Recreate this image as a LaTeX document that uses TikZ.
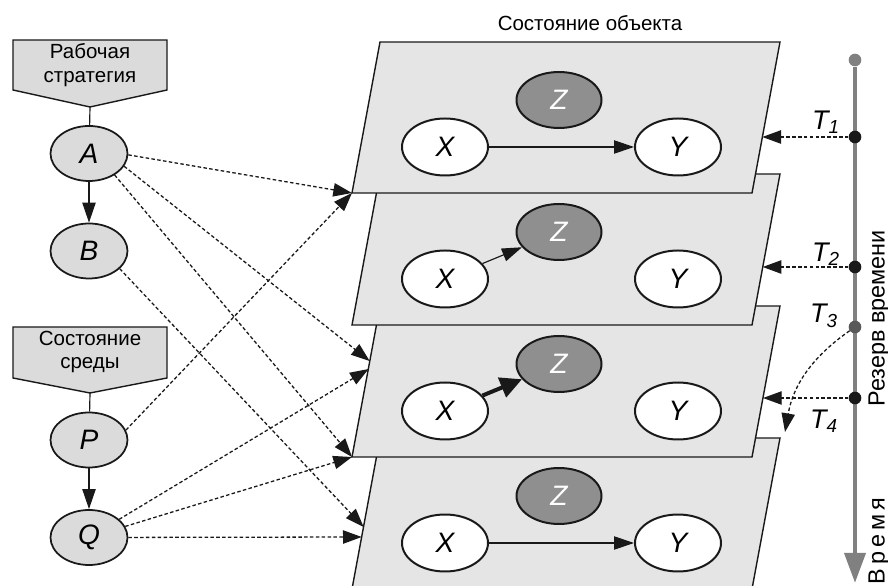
\documentclass[tikz,border=0pt]{standalone}
\usepackage{fontspec}
\setmainfont{Liberation Sans}
\usetikzlibrary{arrows.meta,shapes.geometric}

\begin{document}
\begin{tikzpicture}[
	lbl/.style={font=\fontsize{17.5}{20}\selectfont,align=center,inner sep=0pt},
	rlbl/.style={font=\fontsize{20}{22}\selectfont,inner sep=0pt,rotate=90},
	tlbl/.style={font=\fontsize{23}{25}\selectfont\itshape,inner sep=0pt},
	vleft/.style={ellipse,draw=cv,fill=cfl,line width=1.5pt,minimum width=2.31cm,minimum height=1.65cm,inner sep=0pt,font=\fontsize{24}{26}\selectfont\itshape},
	vobj/.style={ellipse,draw=cv,fill=white,line width=1.7pt,minimum width=2.58cm,minimum height=1.71cm,inner sep=0pt,font=\fontsize{24}{26}\selectfont\itshape},
	vz/.style={vobj,fill=cfz,text=white,minimum width=2.55cm,minimum height=1.68cm},
	plane/.style={draw=cv,fill=cpl,line width=1.2pt},
	sbox/.style={draw=cv,fill=cfl,line width=1.2pt},
	link/.style={draw=cv,line width=1.1pt,dash pattern=on 3pt off 2pt,-{Triangle[length=0.56cm,width=0.4cm]}},
	solidlink/.style={draw=cv,line width=1pt,-{Triangle[length=0.6cm,width=0.4cm]}},
	tdot/.style={circle,fill=cv,inner sep=0pt,minimum size=0.38cm}]
	\definecolor{cv}{rgb}{0.1,0.1,0.1}
	\definecolor{cfl}{rgb}{0.86,0.86,0.86}
	\definecolor{cpl}{rgb}{0.90,0.90,0.90}
	\definecolor{cfz}{rgb}{0.56,0.56,0.56}
	\definecolor{ctl}{rgb}{0.50,0.50,0.50}
	\definecolor{ct3}{rgb}{0.35,0.35,0.35}
	%
	\useasboundingbox (0,0) rectangle (26.64,17.58);
	%
	\filldraw[sbox] (0.39,16.38) -- (5.01,16.38) -- (5.01,14.88) -- (2.70,14.37) coordinate (tipA) -- (0.39,14.88) -- cycle;
	\filldraw[sbox] (0.39,7.77) -- (5.01,7.77) -- (5.01,6.24) -- (2.70,5.79) coordinate (tipP) -- (0.39,6.24) -- cycle;
	\node[lbl] (rs) at (2.70,15.63) {Рабочая\\стратегия};
	\node[lbl] (ss) at (2.70,7.02) {Состояние\\среды};
	%
	\filldraw[plane] (11.40,4.44) -- (23.40,4.44) coordinate (p4tr) -- (22.56,-0.09) -- (10.56,-0.09) -- cycle;
	\filldraw[plane] (11.40,8.40) -- (23.40,8.40) -- (22.56,3.87) -- (10.56,3.87) coordinate (p3bl) -- cycle;
	\filldraw[plane] (11.40,12.36) -- (23.40,12.36) -- (22.56,7.83) -- (10.56,7.83) coordinate (p2bl) -- cycle;
	\filldraw[plane] (11.40,16.32) -- (23.40,16.32) -- (22.56,11.79) -- (10.56,11.79) coordinate (p1bl) -- cycle;
	\node[lbl] (ttl) at (17.70,16.89) {Состояние объекта};
	%
	\node[vleft] (vA) at (2.67,12.975) {A};
	\node[vleft] (vB) at (2.67,10.05) {B};
	\node[vleft] (vP) at (2.67,4.38) {P};
	\node[vleft] (vQ) at (2.67,1.455) {Q};
	%
	\node[vobj] (x1) at (13.35,13.17) {X};
	\node[vz]   (z1) at (16.77,14.58) {Z};
	\node[vobj] (y1) at (20.34,13.17) {Y};
	\node[vobj] (x2) at (13.35,9.21) {X};
	\node[vz]   (z2) at (16.77,10.62) {Z};
	\node[vobj] (y2) at (20.34,9.21) {Y};
	\node[vobj] (x3) at (13.35,5.25) {X};
	\node[vz]   (z3) at (16.77,6.66) {Z};
	\node[vobj] (y3) at (20.34,5.25) {Y};
	\node[vobj] (x4) at (13.35,1.29) {X};
	\node[vz]   (z4) at (16.77,2.70) {Z};
	\node[vobj] (y4) at (20.34,1.29) {Y};
	%
	\coordinate (a3) at (11.09,6.75);
	\coordinate (q3) at (11.06,6.51);
	\coordinate (b4) at (10.91,1.77);
	\coordinate (q4) at (10.85,1.47);
	\coordinate (e1) at (22.87,13.47);
	\coordinate (e2) at (22.88,9.57);
	\coordinate (e4) at (22.89,5.64);
	\coordinate (e3) at (23.55,4.62);
	\coordinate (tend) at (25.65,0.09);
	%
	\draw[cv,line width=1pt] (tipA) -- (vA);
	\draw[cv,line width=1pt] (tipP) -- (vP);
	\draw[solidlink] (vA) -- (vB);
	\draw[solidlink] (vP) -- (vQ);
	%
	\draw[link] (vA.-2) -- (p1bl);
	\draw[link] (vA.-20) -- (a3);
	\draw[link] (vA.-40) -- (p3bl);
	\draw[link] (vB.-30) -- (b4);
	\draw[link] (vP.15) -- (p1bl);
	\draw[link] (vQ) -- (q3);
	\draw[link] (vQ) -- (p3bl);
	\draw[link] (vQ) -- (q4);
	%
	\draw[solidlink] (x1) -- (y1);
	\draw[solidlink] (x2) -- (z2);
	\draw[cv,line width=3.4pt,-{Triangle[length=0.65cm,width=0.62cm]}] (x3) -- (z3);
	\draw[solidlink] (x4) -- (y4);
	%
	\node[circle,fill=ctl,inner sep=0pt,minimum size=0.38cm] (t0) at (25.65,15.78) {};
	\draw[ctl,line width=0.14cm,-{Triangle[length=0.9cm,width=0.62cm]}] (t0) -- (tend);
	\node[tdot] (t1) at (25.65,13.47) {};
	\node[tdot] (t2) at (25.65,9.57) {};
	\node[tdot,fill=ct3] (t3) at (25.65,7.77) {};
	\node[tdot] (t4) at (25.65,5.64) {};
	\draw[link] (t1) -- (e1);
	\draw[link] (t2) -- (e2);
	\draw[link] (t4) -- (e4);
	\draw[link] (t3) to[out=215,in=80] (e3);
	%
	\node[tlbl] (lt1) at (24.78,13.92) {T\textsubscript{1}};
	\node[tlbl] (lt2) at (24.78,9.96) {T\textsubscript{2}};
	\node[tlbl] (lt3) at (24.72,8.10) {T\textsubscript{3}};
	\node[tlbl] (lt4) at (24.72,4.95) {T\textsubscript{4}};
	\node[rlbl] (res) at (26.37,8.03) {Резерв времени};
	\node[rlbl] (vr) at (26.37,1.34) {В\,р\,е\,м\,я};
	%
\end{tikzpicture}
\end{document}
